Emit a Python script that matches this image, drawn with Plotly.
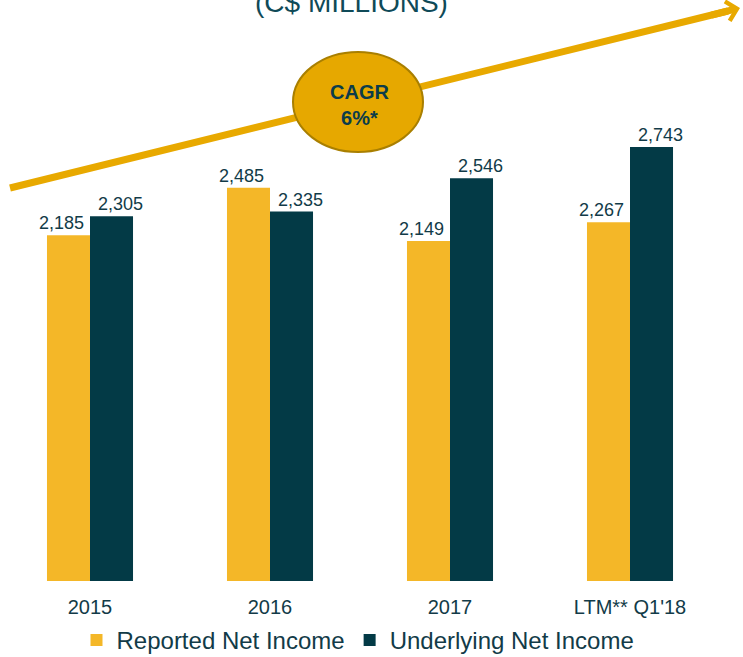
import plotly.graph_objects as go

categories = ["2015", "2016", "2017", "LTM** Q1'18"]
reported = [2185, 2485, 2149, 2267]
underlying = [2305, 2335, 2546, 2743]
reported_labels = ["2,185", "2,485", "2,149", "2,267"]
underlying_labels = ["2,305", "2,335", "2,546", "2,743"]

YELLOW = "#F4B728"
DARK = "#033A46"
GOLD = "#E8A900"
TEXT = "#123B48"

W, H = 743, 657
ML, MR, MT, MB = 0, 23, 40, 76
PW, PH = W - ML - MR, H - MT - MB


def px(x):
    return (x - ML) / PW


def py(y):
    return (H - MB - y) / PH


fig = go.Figure()
fig.add_trace(go.Bar(
    x=categories, y=reported, name="Reported Net Income",
    marker=dict(color=YELLOW, line=dict(width=0)),
))
fig.add_trace(go.Bar(
    x=categories, y=underlying, name="Underlying Net Income",
    marker=dict(color=DARK, line=dict(width=0)),
))

shapes = [
    dict(type="line", xref="paper", yref="paper",
         x0=px(10), y0=py(188), x1=px(728), y1=py(11),
         line=dict(color=GOLD, width=7), layer="above"),
    dict(type="circle", xref="paper", yref="paper",
         x0=px(293), x1=px(423), y0=py(52), y1=py(152),
         fillcolor="#E6A800", line=dict(color="#A97F00", width=2), layer="above"),
]

annotations = [
    dict(xref="paper", yref="paper", x=px(740), y=py(8), ax=-30, ay=7.4,
         showarrow=True, arrowhead=4, arrowsize=0.55, arrowwidth=7,
         arrowcolor=GOLD, text=""),
    dict(xref="paper", yref="paper", x=px(359), y=py(105),
         text="<b>CAGR</b><br><b>6%*</b>", showarrow=False,
         xanchor="center", yanchor="middle",
         font=dict(size=20, color="#0B3C4A", family="Arial, Liberation Sans")),
    dict(xref="paper", yref="paper", x=px(351), y=py(2),
         text="(C$ MILLIONS)", showarrow=False, xanchor="center", yanchor="middle",
         font=dict(size=28, color="#0F4A58", family="Arial, Liberation Sans")),
]

for i, (val, lab) in enumerate(zip(reported, reported_labels)):
    annotations.append(dict(x=i, y=val, xref="x", yref="y", text=lab, showarrow=False,
                            xanchor="center", yanchor="bottom", xshift=-29, yshift=0,
                            font=dict(size=18, color=TEXT, family="Arial, Liberation Sans")))
for i, (val, lab) in enumerate(zip(underlying, underlying_labels)):
    annotations.append(dict(x=i, y=val, xref="x", yref="y", text=lab, showarrow=False,
                            xanchor="center", yanchor="bottom", xshift=30, yshift=0,
                            font=dict(size=18, color=TEXT, family="Arial, Liberation Sans")))

fig.update_layout(
    width=W, height=H,
    margin=dict(l=ML, r=MR, t=MT, b=MB, autoexpand=False),
    paper_bgcolor="white", plot_bgcolor="white",
    barmode="group", bargap=0.522, bargroupgap=0,
    showlegend=True,
    legend=dict(orientation="h", x=px(358), xanchor="center", y=py(618), yanchor="top",
                font=dict(size=24, color=TEXT, family="Arial, Liberation Sans"),
                itemwidth=30, traceorder="normal", itemclick=False),
    xaxis=dict(type="category", showgrid=False, showline=False, ticks="", ticklabelstandoff=12,
               tickfont=dict(size=20, color=TEXT, family="Arial, Liberation Sans")),
    yaxis=dict(visible=False, range=[0, PH / (434 / 2743)], showgrid=False, zeroline=False),
    shapes=shapes, annotations=annotations,
    font=dict(family="Arial, Liberation Sans"),
)

fig.write_html("out.html", config={"displayModeBar": False},
               post_script="document.body.style.margin='0';")
